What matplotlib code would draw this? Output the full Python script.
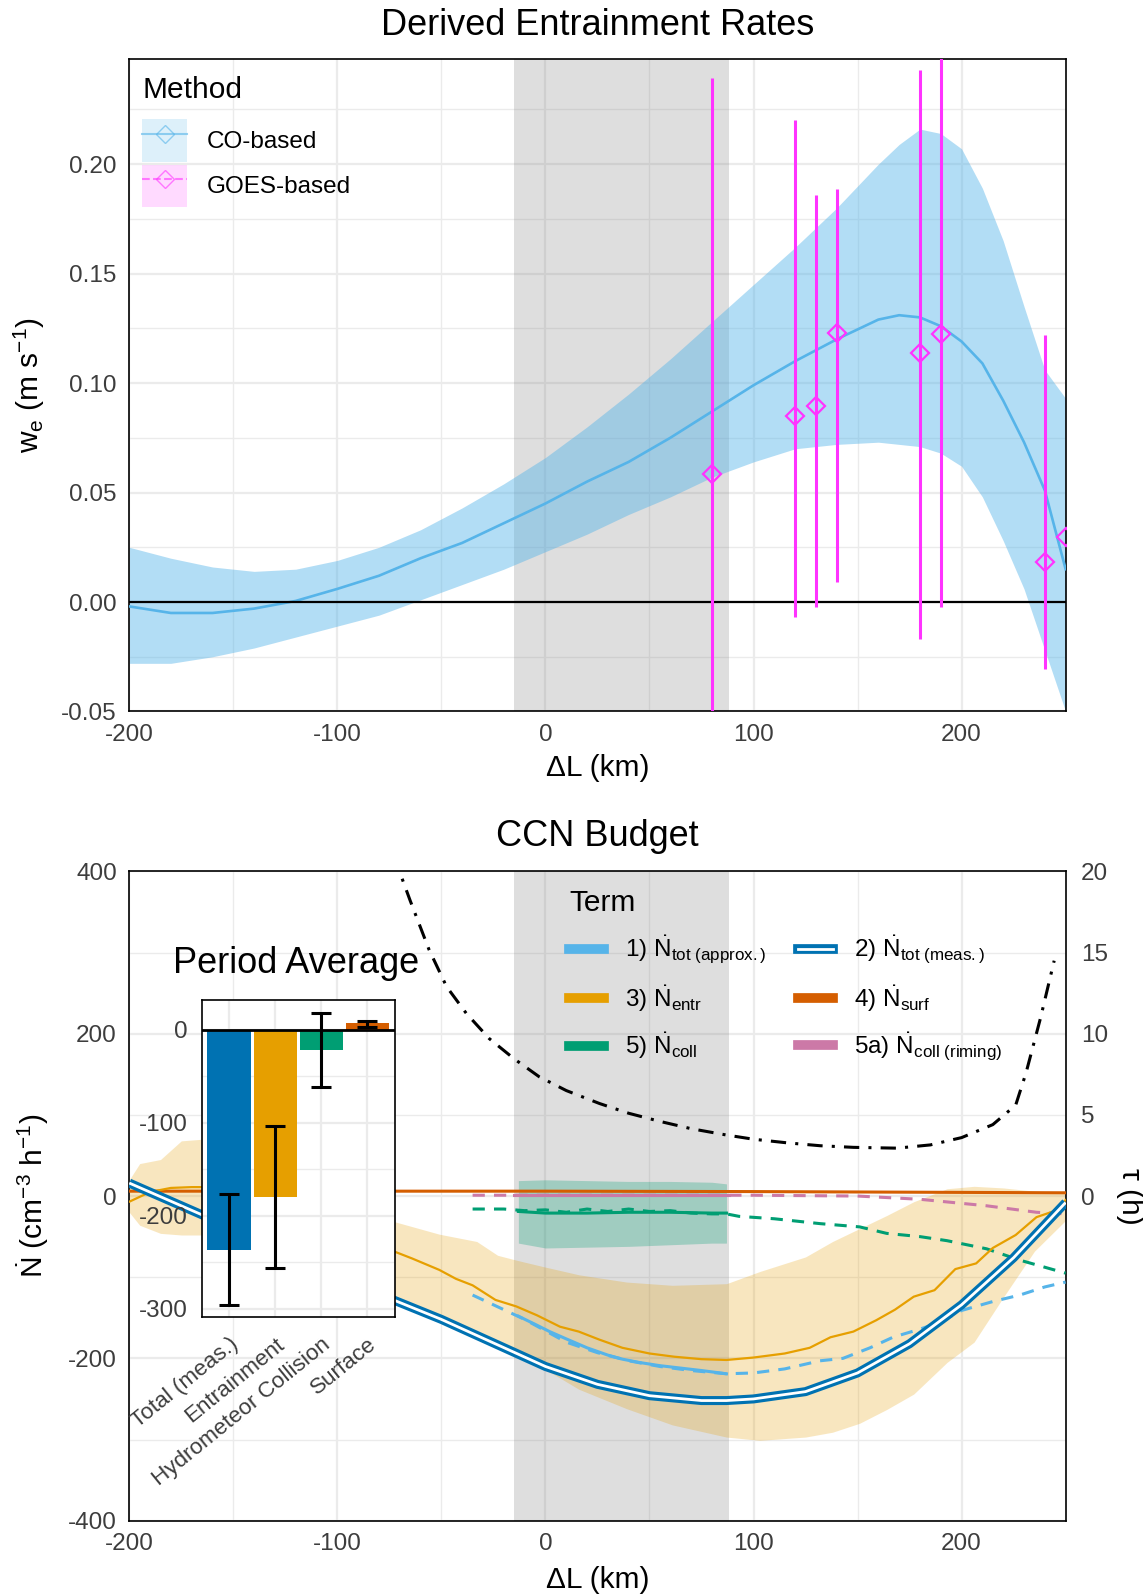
import numpy as np
import matplotlib
matplotlib.use('Agg')
import matplotlib.pyplot as plt
from matplotlib.lines import Line2D
from matplotlib.patches import Patch
from matplotlib.legend_handler import HandlerTuple

plt.rcParams['font.family'] = ['Liberation Sans', 'DejaVu Sans']
plt.rcParams['mathtext.fontset'] = 'custom'
plt.rcParams['mathtext.rm'] = 'Liberation Sans'
plt.rcParams['mathtext.it'] = 'Liberation Sans:italic'
plt.rcParams['mathtext.bf'] = 'Liberation Sans:bold'
plt.rcParams['axes.unicode_minus'] = False

# ---- top panel data: entrainment rate ----
co_x = [-200, -180, -160, -140, -120, -100, -80, -60, -40, -20, 0, 20, 40, 60, 80,
        100, 120, 140, 160, 170, 180, 190, 200, 210, 220, 230, 240, 250]
co_we = [-0.002, -0.005, -0.005, -0.003, 0.0005, 0.006, 0.012, 0.020, 0.027, 0.036,
         0.045, 0.055, 0.064, 0.075, 0.087, 0.099, 0.110, 0.120, 0.129, 0.131, 0.130,
         0.126, 0.119, 0.109, 0.092, 0.073, 0.051, 0.015]
co_hi = [0.025, 0.020, 0.016, 0.014, 0.015, 0.019, 0.025, 0.033, 0.043, 0.054, 0.066,
         0.080, 0.095, 0.111, 0.128, 0.145, 0.162, 0.180, 0.200, 0.209, 0.216, 0.214,
         0.207, 0.189, 0.165, 0.135, 0.106, 0.093]
co_lo = [-0.028, -0.028, -0.025, -0.021, -0.016, -0.011, -0.006, 0.001, 0.008, 0.015,
         0.023, 0.031, 0.040, 0.048, 0.057, 0.064, 0.070, 0.072, 0.073, 0.072, 0.071,
         0.068, 0.062, 0.048, 0.028, 0.006, -0.022, -0.050]
goes_x = [80, 120, 130, 140, 180, 190, 240, 250]
goes_we = [0.0585, 0.0849, 0.0895, 0.1229, 0.1136, 0.1226, 0.0185, 0.0298]
goes_hi = [0.2395, 0.220, 0.1857, 0.1885, 0.2428, 0.27, 0.1221, np.nan]
goes_lo = [-0.12, -0.0068, -0.0023, 0.0091, -0.0168, -0.0023, -0.0307, np.nan]

period = (-15, 88)

# ---- bottom panel data: CCN budget ----
meas_x = [-200, -175, -150, -125, -100, -75, -50, -25, 0, 25, 50, 75, 87, 100, 125,
          150, 175, 200, 225, 250]
meas_n = [16, -12, -40, -70, -98, -126, -152, -181, -210, -232, -246, -252, -252, -250,
          -241, -218, -182, -134, -76, -8]

entr_x = [-200, -190, -180, -170, -160, -140, -120, -100, -85, -72, -64, -51, -43, -35,
          -24, -14, -4, 7, 16, 26, 37, 50, 62, 75, 87, 100, 115, 127, 137, 148, 159,
          168, 177, 187, 197, 207, 215, 226, 236, 244, 250]
entr_n = [-7, 5, 10, 11, 11, -5, -25, -42, -55, -69, -77, -91, -102, -110, -128, -136,
          -147, -161, -167, -177, -187, -194, -198, -201, -202, -199, -194, -187, -174,
          -167, -153, -140, -124, -116, -90, -83, -64, -48, -26, -19, -5]
entr_hi_x = [-200, -195, -185, -175, -165, -150, -120, -90, -72, -51, -33, -23, -14, -1,
             16, 39, 61, 87, 103, 125, 138, 151, 164, 177, 193, 206, 220, 235, 250]
entr_hi = [20, 40, 45, 68, 70, 60, 20, -15, -32, -47, -56, -73, -79, -87, -97, -106, -110,
           -108, -93, -75, -56, -40, -24, -7, 9, 12, 10, 6, 3]
entr_lo = [-20, -36, -46, -48, -48, -55, -80, -112, -125, -148, -170, -182, -196, -212,
           -238, -262, -282, -297, -301, -297, -291, -280, -263, -244, -205, -180, -125,
           -68, -30]

approx_x = [-35, -20, -10, 0, 10, 25, 40, 55, 70, 87, 100, 115, 132, 143, 156, 167, 180,
            190, 200, 215, 228, 240, 250]
approx_n = [-122, -140, -152, -166, -180, -193, -203, -210, -215, -219, -218, -213, -203,
            -200, -187, -174, -164, -155, -141, -130, -122, -112, -106]
approx_p_x = [-13, -5, 2, 10, 20, 30, 37, 45, 55, 65, 75, 87]
approx_p_n = [-148, -158, -167, -176, -187, -196, -201, -205, -209, -212, -215, -219]

coll_x = [-35, -20, -10, 0, 10, 20, 30, 40, 50, 60, 70, 80, 87, 93, 110, 132, 151, 164,
          180, 193, 212, 228, 250]
coll_n = [-16, -16, -18, -17, -20, -16, -19, -16, -19, -18, -21, -22, -22, -25, -28, -34,
          -38, -46, -50, -55, -65, -79, -95]
coll_p_x = [-13, 0, 20, 40, 60, 80, 87]
coll_p_n = [-19, -21, -21, -20, -20, -21, -21]
coll_p_hi = [19, 20, 19, 18, 18, 17, 15]
coll_p_lo = [-58, -64, -63, -62, -60, -58, -58]

rim_x = [-35, 0, 50, 100, 150, 180, 212, 236, 250]
rim_n = [1, 1, 1, 1, 0, -4, -12, -20, -22]

surf_x = [-200, 0, 100, 200, 250]
surf_n = [6, 6, 5.5, 4.5, 4]

tau_x = [-72, -69, -65, -56, -47.5, -38, -27, -15, -3, 10, 26, 40, 55, 70, 87, 100, 116,
         132, 148, 169, 185, 200, 215, 226, 231, 238, 244.5]
tau_h = [21, 19.6, 18.2, 15.2, 12.9, 11.25, 9.7, 8.45, 7.35, 6.5, 5.7, 5.1, 4.6, 4.15,
         3.76, 3.5, 3.28, 3.1, 3.0, 2.95, 3.15, 3.6, 4.4, 5.6, 7.6, 11, 14.5]

# ---- inset: period averages ----
avg_cats = ['Total (meas.)', 'Entrainment', 'Hydrometeor Collision', 'Surface']
avg_val = [-237, -180, -22, 7]
avg_lo = [-296, -256, -62, 3]
avg_hi = [-177, -103, 18, 10]

lblue = '#56B4E9'
blue = '#0072B2'
orange = '#E69F00'
verm = '#D55E00'
green = '#009E73'
pink = '#CC79A7'
mag = '#FF33FF'
tickc = '#3d3d3d'


def style(a):
    a.set_facecolor('white')
    for s in a.spines.values():
        s.set_color('black')
        s.set_linewidth(1.2)
    a.grid(which='major', color='#EBEBEB', lw=1.6)
    a.grid(which='minor', color='#EBEBEB', lw=1.0)
    a.tick_params(which='both', length=0, labelsize=17.5, labelcolor=tickc, pad=9)
    a.set_axisbelow(True)


fig = plt.figure(figsize=(11.43, 15.96), dpi=100)

# ================= top panel =================
ax1 = fig.add_axes([0.1131, 0.5542, 0.8192, 0.4088])
style(ax1)
ax1.axvspan(*period, color='#7f7f7f', alpha=0.25, lw=0, zorder=1)
ax1.fill_between(co_x, co_lo, co_hi, color=lblue, alpha=0.45, lw=0, zorder=2)
ax1.plot(co_x, co_we, color=lblue, lw=1.9, zorder=3)
ax1.axhline(0, color='black', lw=1.6, zorder=3)
gx = np.array(goes_x, float)
glo = np.array(goes_lo)
ghi = np.array(goes_hi)
ok = ~np.isnan(glo)
ax1.vlines(gx[ok], glo[ok], ghi[ok], color=mag, lw=2.2, zorder=4)
ax1.plot(goes_x, goes_we, ls='none', marker='D', ms=9, mfc='none', mec=mag, mew=1.6,
         zorder=5)
ax1.set_xlim(-200, 250)
ax1.set_ylim(-0.05, 0.248)
ax1.set_xticks([-200, -100, 0, 100, 200])
ax1.set_xticks([-150, -50, 50, 150, 250], minor=True)
ax1.set_yticks([-0.05, 0, 0.05, 0.10, 0.15, 0.20])
ax1.set_yticklabels(['-0.05', '0.00', '0.05', '0.10', '0.15', '0.20'])
ax1.set_yticks(np.arange(-0.025, 0.25, 0.05), minor=True)
ax1.set_xlabel('ΔL (km)', fontsize=21.5, labelpad=6)
ax1.set_ylabel(r'w$_\mathrm{e}$ (m s$^{-1}$)', fontsize=21.5, labelpad=10)
ax1.set_title('Derived Entrainment Rates', fontsize=26, pad=17)

h_co = (Patch(facecolor=lblue, alpha=0.2, edgecolor='none'),
        Line2D([], [], color=lblue, lw=1.5, marker='D', ms=9, mfc='none', alpha=0.6))
h_go = (Patch(facecolor=mag, alpha=0.18, edgecolor='none'),
        Line2D([], [], color=mag, lw=1.5, ls='--', marker='D', ms=9, mfc='none', alpha=0.6))
leg1 = ax1.legend([h_co, h_go], ['CO-based', 'GOES-based'], title='Method',
                  handler_map={tuple: HandlerTuple(ndivide=1, pad=0)},
                  loc='upper left', bbox_to_anchor=(0.006, 0.985), frameon=False,
                  fontsize=17.5, title_fontsize=21.5, handlelength=1.85, handleheight=2.3,
                  handletextpad=0.8, labelspacing=0.12, alignment='left', numpoints=1,
                  borderaxespad=0, borderpad=0.3)
leg1._legend_box.sep = 11

# ================= bottom panel =================
ax = fig.add_axes([0.1131, 0.0472, 0.8192, 0.4068])
style(ax)
ax.axvspan(*period, color='#7f7f7f', alpha=0.25, lw=0, zorder=1)
ax.fill_between(entr_hi_x, entr_lo, entr_hi, color=orange, alpha=0.25, lw=0, zorder=2)
ax.fill_between(coll_p_x, coll_p_lo, coll_p_hi, color=green, alpha=0.28, lw=0, zorder=2)
ax.plot(surf_x, surf_n, color=verm, lw=2.2, zorder=3)
ax.plot(rim_x, rim_n, color=pink, lw=2.2, dashes=(4, 3), zorder=3)
ax.plot([period[0], period[1]], [1, 1], color=pink, lw=2.2, zorder=3)
ax.plot(coll_x, coll_n, color=green, lw=2.2, dashes=(4, 3), zorder=3)
ax.plot(coll_p_x, coll_p_n, color=green, lw=2.2, zorder=3)
ax.plot(entr_x, entr_n, color=orange, lw=1.6, zorder=4)
ax.plot(approx_x, approx_n, color=lblue, lw=2.2, dashes=(4, 3), zorder=4)
ax.plot(approx_p_x, approx_p_n, color=lblue, lw=2.2, zorder=4)
ax.plot(meas_x, meas_n, color=blue, lw=6.5, zorder=5, solid_capstyle='butt')
ax.plot(meas_x, meas_n, color='white', lw=2.0, zorder=6, solid_capstyle='butt')
ax.set_xlim(-200, 250)
ax.set_ylim(-400, 400)
ax.set_xticks([-200, -100, 0, 100, 200])
ax.set_xticks([-150, -50, 50, 150, 250], minor=True)
ax.set_yticks([-400, -200, 0, 200, 400])
ax.set_yticks([-300, -100, 100, 300], minor=True)
ax.set_xlabel('ΔL (km)', fontsize=21.5, labelpad=8)
ax.set_ylabel(r'$\dot{\mathrm{N}}$ (cm$^{-3}$ h$^{-1}$)', fontsize=21.5, labelpad=12)
ax.set_title('CCN Budget', fontsize=26, pad=18)

ax2 = ax.twinx()
ax2.set_ylim(-20, 20)
ax2.set_yticks([0, 5, 10, 15, 20])
ax2.tick_params(length=0, labelsize=17.5, labelcolor=tickc, pad=11)
for s in ax2.spines.values():
    s.set_visible(False)
ax2.plot(tau_x, tau_h, color='black', lw=2.2, dashes=(5, 3, 1, 3))
ax2.set_ylabel('τ (h)', rotation=270, va='bottom', fontsize=21.5, labelpad=6)

hd = {tuple: HandlerTuple(ndivide=1, pad=0)}
handles = [Line2D([], [], color=lblue, lw=7),
           Line2D([], [], color=orange, lw=7),
           Line2D([], [], color=green, lw=7),
           (Line2D([], [], color=blue, lw=7), Line2D([], [], color='white', lw=2)),
           Line2D([], [], color=verm, lw=7),
           Line2D([], [], color=pink, lw=7)]
labels = [r'1) $\dot{\mathrm{N}}_{\mathrm{tot\ (approx.)}}$',
          r'3) $\dot{\mathrm{N}}_{\mathrm{entr}}$',
          r'5) $\dot{\mathrm{N}}_{\mathrm{coll}}$',
          r'2) $\dot{\mathrm{N}}_{\mathrm{tot\ (meas.)}}$',
          r'4) $\dot{\mathrm{N}}_{\mathrm{surf}}$',
          r'5a) $\dot{\mathrm{N}}_{\mathrm{coll\ (riming)}}$']
ax2.legend(handles, labels, title='Term', handler_map=hd, ncol=2,
           loc='upper left', bbox_to_anchor=(0.462, 0.984), frameon=False,
           fontsize=17.5, title_fontsize=21.5, handlelength=1.45, handletextpad=0.85,
           labelspacing=0.7, columnspacing=1.3, alignment='left',
           borderaxespad=0, borderpad=0.3)

# ================= inset =================
axi = fig.add_axes([0.1765, 0.1748, 0.1691, 0.1986])
style(axi)
pos = np.arange(1, 5)
val = np.array(avg_val, float)
axi.bar(pos, val, width=0.95, color=[blue, orange, green, verm], zorder=2)
axi.errorbar(pos, val, yerr=[val - np.array(avg_lo), np.array(avg_hi) - val], fmt='none',
             ecolor='black', elinewidth=2.2, capsize=7, capthick=2.2, zorder=3)
axi.axhline(0, color='black', lw=2, zorder=4)
axi.set_xlim(0.4, 4.6)
axi.set_ylim(-309, 32)
axi.set_yticks([0, -100, -200, -300])
axi.set_yticks([-50, -150, -250], minor=True)
axi.set_xticks(pos)
axi.set_xticklabels(avg_cats, rotation=39, ha='right', rotation_mode='anchor')
axi.tick_params(axis='x', pad=12, labelsize=16.2)
axi.tick_params(axis='y', pad=10)
fig.text(0.1514, 0.396, 'Period Average', fontsize=26, va='center', ha='left')

fig.savefig('out.png', dpi=100)
